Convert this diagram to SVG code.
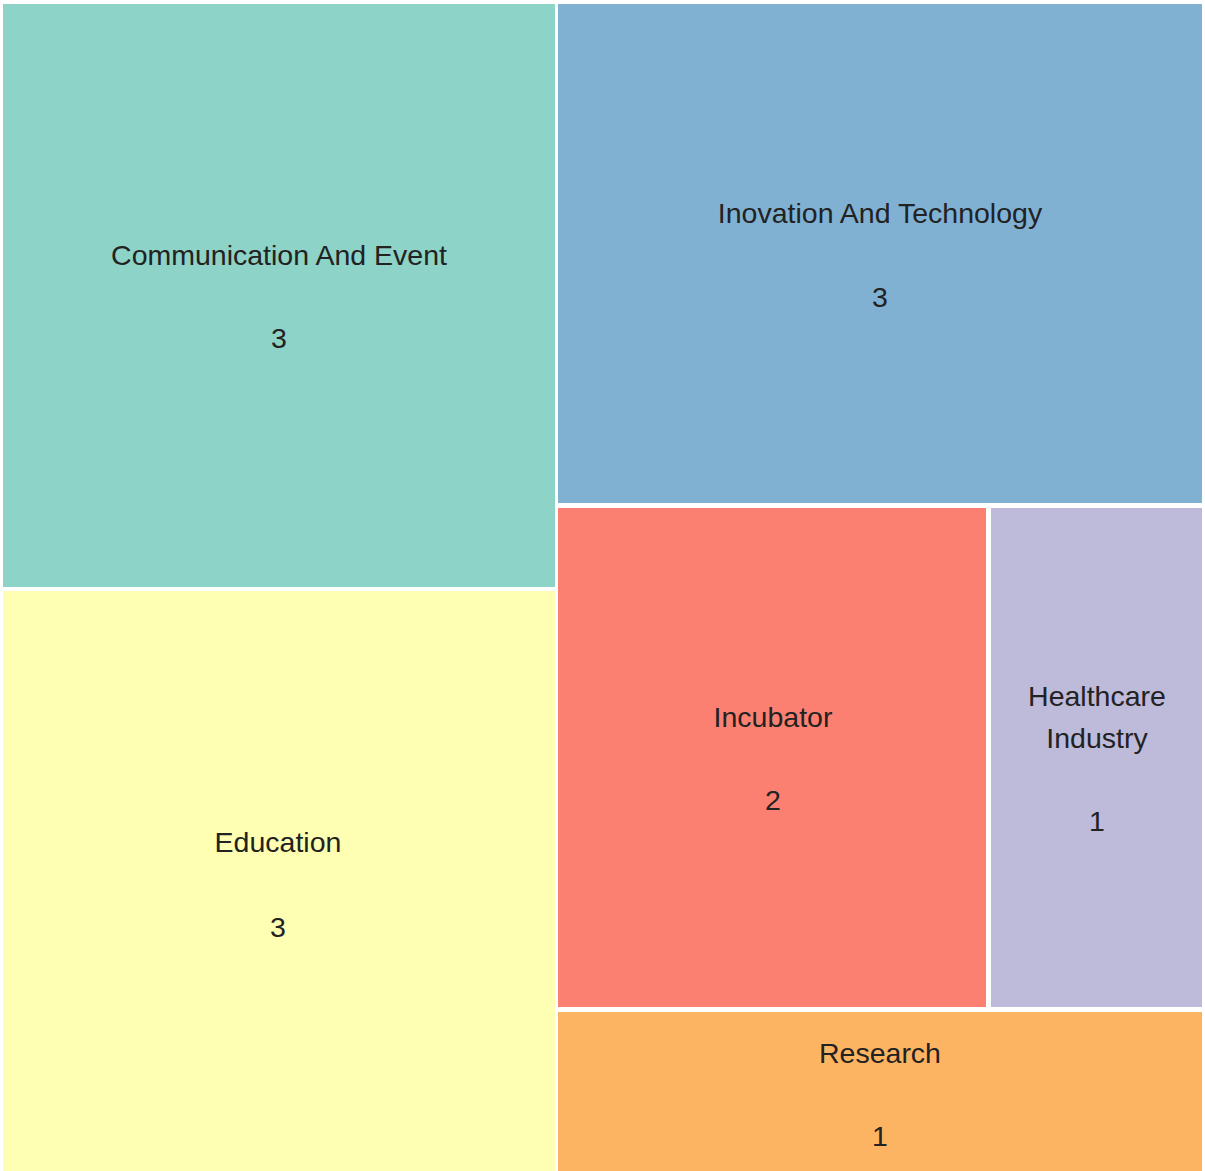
<svg xmlns="http://www.w3.org/2000/svg" width="1205" height="1171" viewBox="0 0 1205 1171">
<style>
.lbl{font-family:"Liberation Sans",Arial,sans-serif;font-size:28.5px;fill:#222222;text-anchor:middle}
</style>
<rect x="0" y="0" width="1205" height="1171" fill="#ffffff"/>
<g id="communication-and-event">
<rect x="3" y="4" width="552" height="583" fill="#8dd3c7"/>
<text class="lbl" x="279" y="265">Communication And Event</text>
<text class="lbl" x="279" y="348">3</text>
</g>
<g id="education">
<rect x="3" y="591" width="552" height="580" fill="#ffffb3"/>
<text class="lbl" x="278" y="852">Education</text>
<text class="lbl" x="278" y="937">3</text>
</g>
<g id="inovation-and-technology">
<rect x="558" y="4" width="644" height="499" fill="#80b1d3"/>
<text class="lbl" x="880" y="223">Inovation And Technology</text>
<text class="lbl" x="880" y="307">3</text>
</g>
<g id="incubator">
<rect x="558" y="508" width="428" height="499" fill="#fb8072"/>
<text class="lbl" x="773" y="727">Incubator</text>
<text class="lbl" x="773" y="810">2</text>
</g>
<g id="healthcare-industry">
<rect x="991" y="508" width="211" height="499" fill="#bebada"/>
<text class="lbl" x="1097" y="706">Healthcare</text>
<text class="lbl" x="1097" y="748">Industry</text>
<text class="lbl" x="1097" y="831">1</text>
</g>
<g id="research">
<rect x="558" y="1012" width="644" height="159" fill="#fdb462"/>
<text class="lbl" x="880" y="1063">Research</text>
<text class="lbl" x="880" y="1146">1</text>
</g>
<g id="connectors"></g>
</svg>
